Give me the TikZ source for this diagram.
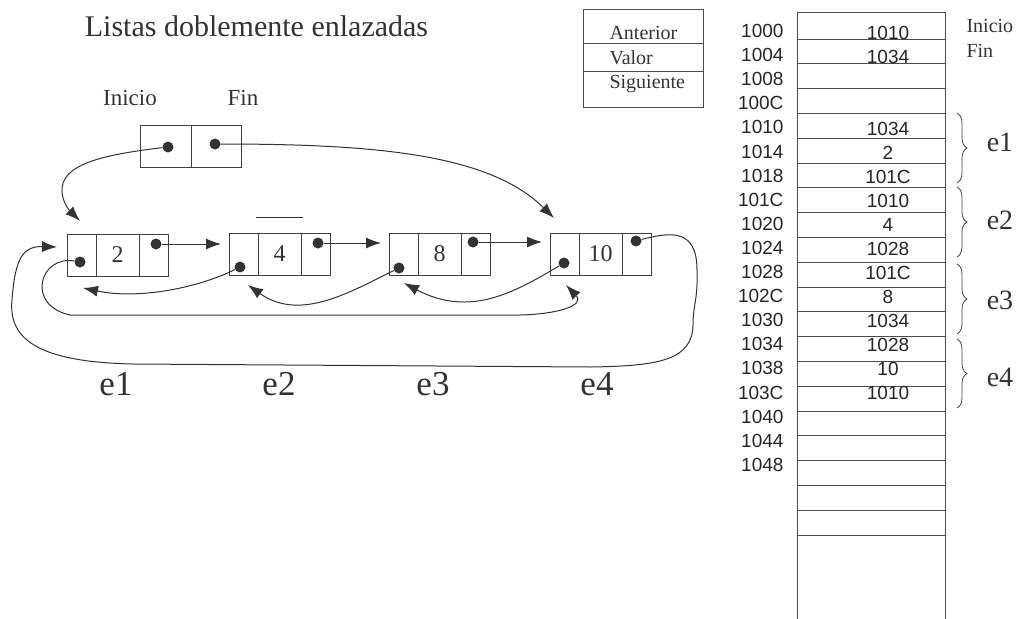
\documentclass[tikz,border=0pt]{standalone}
\usepackage{fontspec}
\setmainfont{Liberation Serif}
\setsansfont{Liberation Sans}
\usetikzlibrary{arrows.meta,positioning,decorations.pathreplacing}

\tikzset{
	cell/.style={draw=black!75, line width=1pt, minimum height=42pt, inner sep=0pt, outer sep=0pt, text=black!80, font=\fontsize{24}{24}\selectfont},
	ptrcell/.style={cell, minimum width=29pt},
	valcell/.style={cell, minimum width=43pt},
	dot/.style={circle, fill=black!80, inner sep=0pt, minimum size=11pt},
	link/.style={black!80, line width=1pt},
	memline/.style={black!70, line width=1pt},
	memnum/.style={font=\sffamily\fontsize{19}{19}\selectfont, text=black!85},
	brace/.style={decorate, decoration={brace, amplitude=10pt}, black!75, line width=0.8pt}
}

\begin{document}
\begin{tikzpicture}[x=1pt, y=-1pt, >={Latex[length=15pt,width=11pt]}, every node/.style={text=black!80}]
	\useasboundingbox (0,0) rectangle (1021,619);
	\node[anchor=base, font=\fontsize{30}{30}\selectfont] (titulo) at (256.5,36) {Listas doblemente enlazadas};

	% puntero Inicio / Fin
	\node[anchor=base, font=\fontsize{23}{23}\selectfont] (linicio) at (130,105) {Inicio};
	\node[anchor=base, font=\fontsize{23}{23}\selectfont] (lfin) at (243,105) {Fin};
	\node[cell, minimum width=51pt, anchor=north west] (inicio) at (140,125) {};
	\node[cell, minimum width=50pt, right=0pt of inicio] (fin) {};
	\node[dot] (dini) at (168,147) {};
	\node[dot] (dfin) at (215,144) {};

	% leyenda
	\draw[memline] (583,9) rectangle (703,107);
	\draw[memline] (583,43) -- (703,43);
	\draw[memline] (583,71) -- (703,71);
	\node[anchor=base west, font=\fontsize{20}{20}\selectfont] (lant) at (606,39) {Anterior};
	\node[anchor=base west, font=\fontsize{20}{20}\selectfont] (lval) at (606,64) {Valor};
	\node[anchor=base west, font=\fontsize{20}{20}\selectfont] (lsig) at (606,88) {Siguiente};

	% elementos de la lista
	\node[ptrcell, anchor=north west] (e1p) at (67,234) {};
	\node[valcell, right=0pt of e1p] (e1v) {2};
	\node[ptrcell, right=0pt of e1v] (e1n) {};
	\node[ptrcell, anchor=north west] (e2p) at (229,233) {};
	\node[valcell, right=0pt of e2p] (e2v) {4};
	\node[ptrcell, right=0pt of e2v] (e2n) {};
	\node[ptrcell, anchor=north west] (e3p) at (389,233) {};
	\node[valcell, right=0pt of e3p] (e3v) {8};
	\node[ptrcell, right=0pt of e3v] (e3n) {};
	\node[ptrcell, anchor=north west] (e4p) at (550,233) {};
	\node[valcell, right=0pt of e4p] (e4v) {10};
	\node[ptrcell, right=0pt of e4v] (e4n) {};
	\draw[link] (256,217) -- (303,217);

	\node[dot] (d1p) at (80,262) {};
	\node[dot] (d1n) at (156,244) {};
	\node[dot] (d2p) at (240,267) {};
	\node[dot] (d2n) at (318,243) {};
	\node[dot] (d3p) at (399,268) {};
	\node[dot] (d3n) at (473,242) {};
	\node[dot] (d4p) at (564,263) {};
	\node[dot] (d4n) at (636,241) {};

	\coordinate (a1) at (57,247);
	\coordinate (in1) at (80,221);
	\coordinate (in4) at (554,218);
	\coordinate (b1) at (83,288);
	\coordinate (b2) at (248,285);
	\coordinate (b3) at (404,283);
	\coordinate (b4) at (566,285);

	% siguiente
	\draw[link, ->, shorten >=8pt] (d1n) -- (d1n -| e2p.west);
	\draw[link, ->, shorten >=8pt] (d2n) -- (d2n -| e3p.west);
	\draw[link, ->, shorten >=8pt] (d3n) -- (d3n -| e4p.west);
	\draw[link, ->] (d4n) .. controls (670,232) and (697,228) .. (697,270) .. controls (698,300) and (693,305) .. (693,325) .. controls (692,360) and (660,366) .. (590,367) -- (133,364) .. controls (40,362) and (8,340) .. (12,300) .. controls (15,260) and (22,246) .. (a1);

	% anterior
	\draw[link, ->] (d2p) .. controls (200,287) and (140,300) .. (b1);
	\draw[link, ->] (d3p) .. controls (350,292) and (300,322) .. (b2);
	\draw[link, ->] (d4p) .. controls (515,292) and (470,318) .. (b3);
	\draw[link, ->] (d1p) .. controls (40,255) and (25,305) .. (70,315) -- (520,315) .. controls (560,314) and (585,305) .. (b4);

	% inicio y fin
	\draw[link, ->] (dini) .. controls (100,155) and (60,165) .. (62,192) .. controls (63,205) and (72,213) .. (in1);
	\draw[link, ->] (dfin) .. controls (380,144) and (490,155) .. (in4);

	\node[font=\fontsize{35}{35}\selectfont] (le1) at (116,384) {e1};
	\node[font=\fontsize{35}{35}\selectfont] (le2) at (279,384) {e2};
	\node[font=\fontsize{35}{35}\selectfont] (le3) at (433,384) {e3};
	\node[font=\fontsize{35}{35}\selectfont] (le4) at (597,384) {e4};

	% memoria
	\draw[memline] (797,619) -- (797,12) -- (945,12) -- (945,619);
	\foreach \k in {0,...,20}
		\draw[memline] (797,{39+24.8*\k}) -- (945,{39+24.8*\k});
	\foreach \dir [count=\k from 0] in {1000,1004,1008,100C,1010,1014,1018,101C,1020,1024,1028,102C,1030,1034,1038,103C,1040,1044,1048}
		\node[memnum, anchor=east] (m\dir) at (787,{31+24.1*\k}) {\dir};
	\foreach \k/\val in {0/1010,1/1034,4/1034,5/2,6/101C,7/1010,8/4,9/1028,10/101C,11/8,12/1034,13/1028,14/10,15/1010}
		\node[memnum] (v\k) at (888,{33+24*\k}) {\val};
	\node[anchor=base west, font=\fontsize{20}{20}\selectfont] (minicio) at (963,32) {Inicio};
	\node[anchor=base west, font=\fontsize{20}{20}\selectfont] (mfin) at (963,57) {Fin};

	\draw[brace] (957,113) -- (957,183);
	\draw[brace] (957,187) -- (957,257);
	\draw[brace] (957,264) -- (957,334);
	\draw[brace] (957,339) -- (957,408);
	\node[font=\fontsize{28}{28}\selectfont] (me1) at (1000,142) {e1};
	\node[font=\fontsize{28}{28}\selectfont] (me2) at (1000,220) {e2};
	\node[font=\fontsize{28}{28}\selectfont] (me3) at (1000,300) {e3};
	\node[font=\fontsize{28}{28}\selectfont] (me4) at (1000,377) {e4};
\end{tikzpicture}
\end{document}
